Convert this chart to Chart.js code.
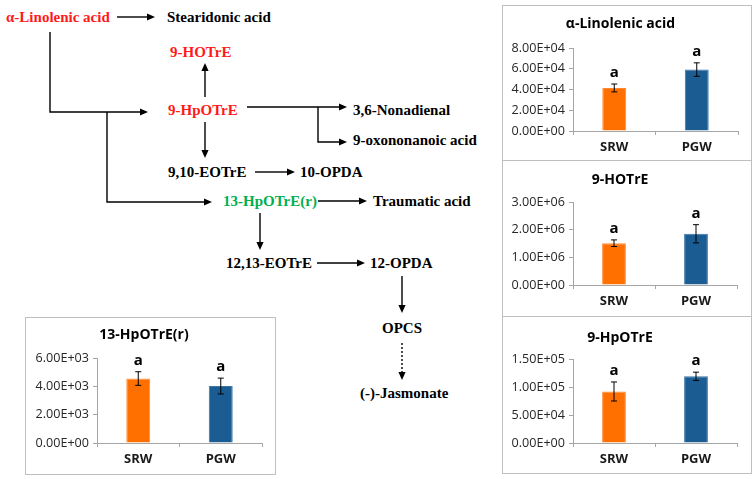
<!DOCTYPE html>
<html>
<head>
<meta charset="utf-8">
<script src="https://cdn.jsdelivr.net/npm/chart.js@4"></script>
<style>
    html, body { margin: 0; padding: 0; background: #fff; }
    body { width: 756px; height: 479px; position: relative; overflow: hidden; }
    .panel { position: absolute; border: 1px solid #bfbfbf; box-sizing: border-box; background: #fff; }
    .panel canvas { display: block; }
    svg { position: absolute; left: 0; top: 0; }
    svg text { font-family: "Liberation Serif", "Times New Roman", serif; font-weight: bold; font-size: 15px; dominant-baseline: central; }
</style>
</head>
<body>
<svg id="pathway" width="756" height="479"></svg>

<script>
const categories = ["SRW", "PGW"];

const linolenicMean = [41500, 59200];
const linolenicErr = [3800, 6500];

const hotreMean = [1510000, 1850000];
const hotreErr = [120000, 330000];

const hpotreMean = [92000, 119000];
const hpotreErr = [17000, 7500];

const hpotre13Mean = [4550, 4020];
const hpotre13Err = [480, 560];

const sigLetters = ["a", "a"];

const barColors = ["#ff7000", "#1b5c92"];

// pathway labels: text, left x, centre y, colour
const pathwayLabels = [
    ["α-Linolenic acid", 6, 17, "#ff1a1a"],
    ["Stearidonic acid", 167, 17, "#000"],
    ["9-HOTrE", 170, 52, "#ff1a1a"],
    ["9-HpOTrE", 168, 110, "#ff1a1a"],
    ["3,6-Nonadienal", 353, 110, "#000"],
    ["9-oxononanoic acid", 353, 140, "#000"],
    ["9,10-EOTrE", 168, 172, "#000"],
    ["10-OPDA", 300, 172, "#000"],
    ["13-HpOTrE(r)", 223, 201, "#00b050"],
    ["Traumatic acid", 373, 201, "#000"],
    ["12,13-EOTrE", 226, 263, "#000"],
    ["12-OPDA", 370, 263, "#000"],
    ["OPCS", 382, 328, "#000"],
    ["(-)-Jasmonate", 360, 393, "#000"],
];

// arrows as polylines, last segment gets the head
const pathwayArrows = [
    { pts: [[117, 17], [155, 17]] },
    { pts: [[50, 32], [50, 112], [148, 112]] },
    { pts: [[205, 97], [205, 63]] },
    { pts: [[247, 107], [347, 107]] },
    { pts: [[318, 107], [318, 142], [347, 142]] },
    { pts: [[205, 122], [205, 158]] },
    { pts: [[255, 172], [295, 172]] },
    { pts: [[107, 112], [107, 202], [212, 202]] },
    { pts: [[318, 201], [367, 201]] },
    { pts: [[260, 213], [260, 250]] },
    { pts: [[317, 263], [365, 263]] },
    { pts: [[402, 276], [402, 313]] },
    { pts: [[402, 343], [402, 380]], dotted: true },
];

const svg = document.getElementById("pathway");
const NS = "http://www.w3.org/2000/svg";

pathwayArrows.forEach((a) => {
    const pts = a.pts;
    const last = pts[pts.length - 1];
    const prev = pts[pts.length - 2];
    const dx = last[0] - prev[0], dy = last[1] - prev[1];
    const len = Math.hypot(dx, dy);
    const ux = dx / len, uy = dy / len;
    const headLen = 8, headW = 3.6;
    const bx = last[0] - ux * headLen, by = last[1] - uy * headLen;

    const line = document.createElementNS(NS, "polyline");
    const linePts = pts.slice(0, -1).concat([[bx, by]]);
    line.setAttribute("points", linePts.map((p) => p.join(",")).join(" "));
    line.setAttribute("fill", "none");
    line.setAttribute("stroke", "#000");
    line.setAttribute("stroke-width", "1.4");
    if (a.dotted) line.setAttribute("stroke-dasharray", "2,2");
    svg.appendChild(line);

    const head = document.createElementNS(NS, "polygon");
    head.setAttribute("points", [
        [last[0], last[1]],
        [bx - uy * headW, by + ux * headW],
        [bx + uy * headW, by - ux * headW],
    ].map((p) => p.join(",")).join(" "));
    head.setAttribute("fill", "#000");
    svg.appendChild(head);
});

pathwayLabels.forEach(([txt, x, y, col]) => {
    const t = document.createElementNS(NS, "text");
    t.setAttribute("x", x);
    t.setAttribute("y", y);
    t.setAttribute("fill", col);
    t.textContent = txt;
    svg.appendChild(t);
});

function sci(v) {
    if (v === 0) return "0.00E+00";
    const parts = v.toExponential(2).split("e");
    const n = parseInt(parts[1], 10);
    return parts[0] + "E" + (n < 0 ? "-" : "+") + String(Math.abs(n)).padStart(2, "0");
}

const errorBars = {
    id: "errorBars",
    afterDatasetsDraw(chart, args, opts) {
        const ctx = chart.ctx;
        const y = chart.scales.y;
        const meta = chart.getDatasetMeta(0);
        ctx.save();
        meta.data.forEach((bar, i) => {
            const m = opts.mean[i], e = opts.err[i];
            const top = y.getPixelForValue(m + e);
            const bot = y.getPixelForValue(m - e);
            ctx.strokeStyle = "#000";
            ctx.lineWidth = 1;
            ctx.beginPath();
            ctx.moveTo(bar.x, top);
            ctx.lineTo(bar.x, bot);
            ctx.moveTo(bar.x - 3, top);
            ctx.lineTo(bar.x + 3, top);
            ctx.moveTo(bar.x - 3, bot);
            ctx.lineTo(bar.x + 3, bot);
            ctx.stroke();
            ctx.fillStyle = "#000";
            ctx.font = "bold 15px 'Open Sans', sans-serif";
            ctx.textAlign = "center";
            ctx.textBaseline = "middle";
            ctx.fillText(opts.letters[i], bar.x, top - 11);
        });
        ctx.restore();
    },
};

function makePanel(cfg) {
    const div = document.createElement("div");
    div.className = "panel";
    div.style.left = cfg.box[0] + "px";
    div.style.top = cfg.box[1] + "px";
    div.style.width = cfg.box[2] + "px";
    div.style.height = cfg.box[3] + "px";
    const cw = cfg.box[2] - 2, ch = cfg.box[3] - 2;
    const canvas = document.createElement("canvas");
    canvas.width = cw;
    canvas.height = ch;
    canvas.style.width = cw + "px";
    canvas.style.height = ch + "px";
    div.appendChild(canvas);
    document.body.appendChild(div);

    const ox = cfg.box[0] + 1, oy = cfg.box[1] + 1;
    const yWidth = cfg.plot[0] - ox;
    const padRight = ox + cw - cfg.plot[1];
    const titleH = cfg.plot[2] - oy;
    const xHeight = oy + ch - cfg.plot[3];
    const titleTop = cfg.titleY - oy - 8.4;

    new Chart(canvas, {
        type: "bar",
        data: {
            labels: categories,
            datasets: [{
                data: cfg.mean,
                backgroundColor: barColors,
                borderColor: ["#ff8a33", "#3a76a8"],
                borderWidth: 1,
                categoryPercentage: 1,
                barPercentage: 0.29,
            }],
        },
        options: {
            responsive: false,
            animation: false,
            devicePixelRatio: 1,
            layout: { padding: { left: 0, right: padRight, top: 0, bottom: 0 } },
            plugins: {
                legend: { display: false },
                tooltip: { enabled: false },
                title: {
                    display: true,
                    text: cfg.title,
                    color: "#000",
                    font: { family: "'Open Sans'", size: 14, weight: "bold", lineHeight: 1.2 },
                    padding: { top: titleTop, bottom: titleH - 16.8 - titleTop },
                },
                errorBars: { mean: cfg.mean, err: cfg.err, letters: sigLetters },
            },
            scales: {
                x: {
                    offset: true,
                    grid: { offset: true, drawOnChartArea: false, drawTicks: true, tickLength: 4, color: "#a6a6a6" },
                    border: { color: "#a6a6a6" },
                    ticks: { color: "#1a1a1a", padding: 4, font: { family: "'Open Sans'", size: 13, weight: "bold" } },
                    afterFit(s) { s.height = xHeight; },
                },
                y: {
                    min: 0,
                    max: cfg.max,
                    ticks: {
                        stepSize: cfg.step,
                        color: "#262626",
                        padding: 4,
                        font: { family: "'Open Sans'", size: 12.6 },
                        callback: (v) => sci(v),
                    },
                    grid: { drawOnChartArea: false, drawTicks: true, tickLength: 4, color: "#a6a6a6" },
                    border: { color: "#a6a6a6" },
                    afterFit(s) { s.width = yWidth; },
                },
            },
        },
        plugins: [errorBars],
    });
}

makePanel({ title: "α-Linolenic acid", mean: linolenicMean, err: linolenicErr, max: 80000, step: 20000,
    box: [502, 5, 250, 156], plot: [573, 738, 48, 131], titleY: 24 });
makePanel({ title: "9-HOTrE", mean: hotreMean, err: hotreErr, max: 3000000, step: 1000000,
    box: [502, 160, 250, 157], plot: [573, 737, 202, 285], titleY: 180 });
makePanel({ title: "9-HpOTrE", mean: hpotreMean, err: hpotreErr, max: 150000, step: 50000,
    box: [502, 316, 250, 158], plot: [573, 737, 359, 443], titleY: 338 });
makePanel({ title: "13-HpOTrE(r)", mean: hpotre13Mean, err: hpotre13Err, max: 6000, step: 2000,
    box: [25, 317, 251, 158], plot: [97, 262, 358, 443], titleY: 335 });
</script>
</body>
</html>
